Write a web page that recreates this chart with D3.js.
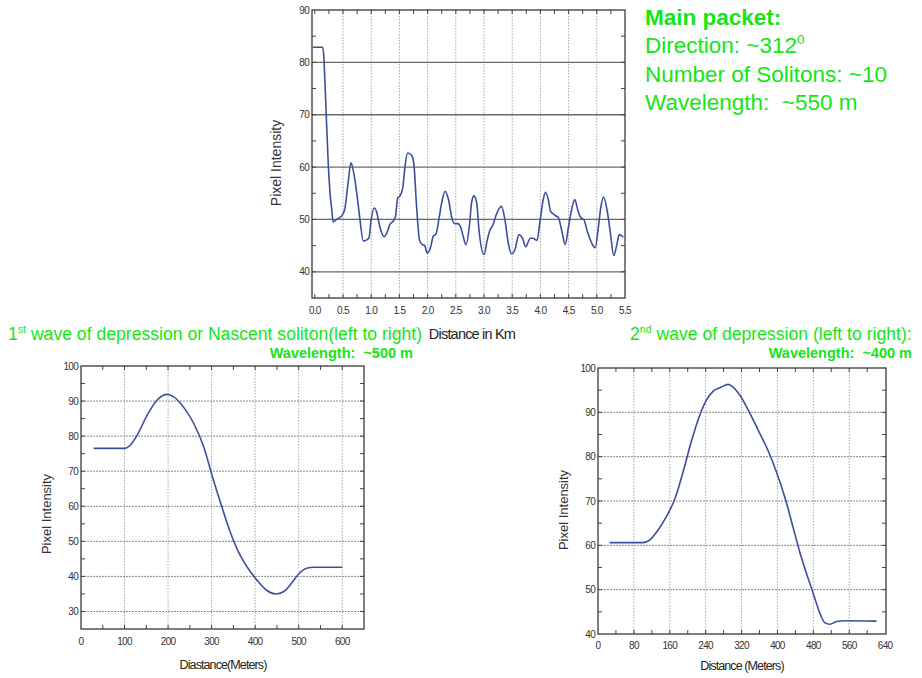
<!DOCTYPE html>
<html>
<head>
<meta charset="utf-8">
<script src="https://cdn.jsdelivr.net/npm/d3@7"></script>
<style>
  html, body { margin: 0; padding: 0; background: #fff; }
  svg { display: block; }
  text { font-family: "Liberation Sans", Arial, sans-serif; white-space: pre; }
</style>
</head>
<body>
<svg id="chart" width="922" height="678"></svg>
<script>
// ---------------- DATA ----------------
// Main packet profile: [distance km, pixel intensity]
const mainPacket = [
  [-0.03, 82.9], [0.14, 82.9], [0.16, 81.0], [0.18, 76.0], [0.21, 68.0], [0.24, 60.2], [0.27, 55.0],
  [0.30, 51.9], [0.325, 49.5], [0.385, 50.0], [0.47, 50.6], [0.53, 51.9], [0.59, 57.0], [0.64, 60.8],
  [0.69, 58.9], [0.75, 54.5], [0.80, 50.0], [0.86, 45.9], [0.92, 46.1], [0.96, 46.5], [1.00, 50.0],
  [1.05, 52.2], [1.10, 51.3], [1.15, 48.7], [1.23, 46.7], [1.28, 47.5], [1.33, 49.0], [1.39, 49.7],
  [1.43, 50.6], [1.47, 54.1], [1.51, 54.5], [1.56, 56.1], [1.60, 60.2], [1.645, 62.7], [1.72, 62.2],
  [1.76, 60.2], [1.80, 53.2], [1.86, 45.9], [1.91, 45.2], [1.95, 45.0], [1.99, 43.6], [2.05, 44.6],
  [2.10, 46.8], [2.15, 47.3], [2.20, 50.0], [2.25, 53.2], [2.31, 55.4], [2.37, 53.8], [2.43, 50.3],
  [2.48, 49.2], [2.54, 49.2], [2.59, 48.4], [2.63, 46.8], [2.68, 45.2], [2.74, 48.7], [2.78, 53.2],
  [2.82, 54.5], [2.87, 53.2], [2.91, 48.1], [3.00, 43.3], [3.06, 46.2], [3.10, 47.8], [3.16, 49.0],
  [3.22, 51.0], [3.31, 52.5], [3.37, 50.0], [3.43, 45.5], [3.49, 43.4], [3.55, 44.3], [3.62, 47.1],
  [3.68, 46.5], [3.74, 44.8], [3.82, 46.4], [3.87, 46.4], [3.94, 46.0], [3.99, 49.4], [4.05, 53.8],
  [4.09, 55.2], [4.14, 53.8], [4.18, 51.6], [4.26, 50.8], [4.32, 50.3], [4.38, 47.8], [4.44, 45.2],
  [4.50, 48.7], [4.56, 52.2], [4.61, 53.8], [4.66, 51.9], [4.72, 50.3], [4.77, 50.0], [4.83, 47.8],
  [4.91, 45.5], [4.97, 44.6], [5.03, 48.7], [5.07, 52.2], [5.12, 54.3], [5.18, 51.9], [5.24, 47.5],
  [5.30, 43.1], [5.35, 44.9], [5.40, 47.1], [5.47, 46.6]
];
// 1st wave of depression: [distance m, pixel intensity]
const wave1 = [
  [29, 76.5], [100, 76.5], [113, 77.4], [129, 80.3], [152, 86.0], [175, 90.3], [198, 91.9],
  [213, 91.2], [236, 88.2], [259, 83.6], [282, 76.9], [301, 68.8], [320, 61.2], [343, 52.6],
  [362, 46.9], [382, 42.6], [405, 38.8], [428, 35.9], [447, 35.0], [466, 35.7], [485, 38.3],
  [500, 40.7], [520, 42.4], [535, 42.6], [600, 42.6]
];
// 2nd wave of depression: [distance m, pixel intensity]
const wave2 = [
  [26, 60.6], [100, 60.6], [115, 61.2], [130, 62.9], [153, 66.6], [171, 70.4], [190, 76.7],
  [208, 83.4], [227, 89.4], [242, 92.8], [257, 94.8], [275, 95.7], [290, 96.3], [301, 95.7],
  [316, 93.9], [335, 90.5], [357, 86.0], [379, 81.4], [398, 76.5], [417, 70.7], [435, 64.0],
  [450, 58.4], [465, 53.6], [480, 49.1], [495, 44.6], [506, 42.5], [517, 42.2], [532, 42.8],
  [554, 43.0], [621, 42.9]
];

// Tick values
const mainXTicks = [0, 0.5, 1, 1.5, 2, 2.5, 3, 3.5, 4, 4.5, 5, 5.5];
const mainYTicks = [40, 50, 60, 70, 80, 90];
const wave1XTicks = [0, 100, 200, 300, 400, 500, 600];
const wave1YTicks = [30, 40, 50, 60, 70, 80, 90, 100];
const wave2XTicks = [0, 80, 160, 240, 320, 400, 480, 560, 640];
const wave2YTicks = [40, 50, 60, 70, 80, 90, 100];

// Text
const mainTitle = "Main packet:";
const mainInfo = ["Direction: ~312", "Number of Solitons: ~10", "Wavelength:  ~550 m"];
const wave1Title = ["1", "st", " wave of depression or Nascent soliton(left to right)"];
const wave1Sub = "Wavelength:  ~500 m";
const wave2Title = ["2", "nd", " wave of depression (left to right):"];
const wave2Sub = "Wavelength:  ~400 m";

// ---------------- DRAW ----------------
const svg = d3.select("#chart");
svg.append("rect").attr("width", 922).attr("height", 678).attr("fill", "#fff");

const GREEN = "#14e614";
const LINE = "#3d4f9c";

function drawChart(cfg) {
  const x = d3.scaleLinear().domain(cfg.xDomain).range([cfg.left, cfg.right]);
  const y = d3.scaleLinear().domain(cfg.yDomain).range([cfg.bottom, cfg.top]);
  const g = svg.append("g");
  const w = cfg.right - cfg.left, h = cfg.bottom - cfg.top;

  // grid
  g.append("g").selectAll("line").data(cfg.xTicks.filter(v => x(v) > cfg.left + 4 && x(v) < cfg.right - 3))
    .join("line")
    .attr("x1", d => x(d)).attr("x2", d => x(d)).attr("y1", cfg.top).attr("y2", cfg.bottom)
    .attr("stroke", "#a8a8a8").attr("stroke-width", 1).attr("stroke-dasharray", "1.5,1.5");
  g.append("g").selectAll("line").data(cfg.yTicks.filter(v => y(v) > cfg.top + 3 && y(v) < cfg.bottom - 3))
    .join("line")
    .attr("x1", cfg.left).attr("x2", cfg.right).attr("y1", d => y(d)).attr("y2", d => y(d))
    .attr("stroke", cfg.hGridColor).attr("stroke-width", cfg.hGridWidth)
    .attr("stroke-dasharray", cfg.hGridDash);

  // minor ticks (inward, all four sides)
  const xMinor = d3.range(cfg.xMinor[0], cfg.xDomain[1] + 1e-9, cfg.xMinor[1]).filter(v => x(v) > cfg.left + 1 && x(v) < cfg.right - 1);
  const yMinor = d3.range(cfg.yMinor[0], cfg.yDomain[1] + 1e-9, cfg.yMinor[1]).filter(v => y(v) > cfg.top + 1 && y(v) < cfg.bottom - 1);
  const tk = 4;
  const tg = g.append("g").attr("stroke", "#444").attr("stroke-width", 1);
  xMinor.forEach(v => {
    tg.append("line").attr("x1", x(v)).attr("x2", x(v)).attr("y1", cfg.bottom).attr("y2", cfg.bottom - tk);
    tg.append("line").attr("x1", x(v)).attr("x2", x(v)).attr("y1", cfg.top).attr("y2", cfg.top + tk);
  });
  yMinor.forEach(v => {
    tg.append("line").attr("x1", cfg.left).attr("x2", cfg.left + tk).attr("y1", y(v)).attr("y2", y(v));
    tg.append("line").attr("x1", cfg.right).attr("x2", cfg.right - tk).attr("y1", y(v)).attr("y2", y(v));
  });

  // frame
  g.append("rect").attr("x", cfg.left).attr("y", cfg.top).attr("width", w).attr("height", h)
    .attr("fill", "none").attr("stroke", "#3a3a3a").attr("stroke-width", 1.3);

  // tick labels
  g.append("g").selectAll("text").data(cfg.xTicks).join("text")
    .attr("x", d => x(d)).attr("y", cfg.bottom + cfg.xLabelDy)
    .attr("text-anchor", "middle").attr("font-size", cfg.tickSize).attr("fill", "#333")
    .attr("letter-spacing", "-0.7px")
    .text(d => cfg.xFmt(d));
  g.append("g").selectAll("text").data(cfg.yTicks).join("text")
    .attr("x", cfg.left - 3).attr("y", d => y(d) + 3.5)
    .attr("text-anchor", "end").attr("font-size", cfg.tickSize).attr("fill", "#333")
    .attr("letter-spacing", "-0.7px")
    .text(d => d);

  // axis titles
  g.append("text").attr("transform", `translate(${cfg.yTitleX},${cfg.yTitleY}) rotate(-90)`)
    .attr("text-anchor", "middle").attr("font-size", cfg.yTitleSize).attr("fill", "#333")
    .text("Pixel Intensity");
  g.append("text").attr("x", cfg.xTitleX).attr("y", cfg.xTitleY)
    .attr("text-anchor", "middle").attr("font-size", cfg.xTitleSize).attr("fill", "#222")
    .attr("letter-spacing", cfg.xTitleSpacing)
    .text(cfg.xTitle);

  // line
  const line = d3.line().x(d => x(d[0])).y(d => y(d[1])).curve(d3.curveMonotoneX);
  g.append("path").datum(cfg.data).attr("d", line)
    .attr("fill", "none").attr("stroke", LINE).attr("stroke-width", 1.6).attr("stroke-linejoin", "round");
}

drawChart({
  left: 312, top: 10, right: 625, bottom: 298,
  xDomain: [-0.05, 5.5], yDomain: [35, 90],
  xTicks: mainXTicks, yTicks: mainYTicks, xMinor: [0, 0.25], yMinor: [40, 5],
  xFmt: d3.format(".1f"), tickSize: 10, xLabelDy: 16,
  hGridColor: "#6a6a6a", hGridWidth: 1.3, hGridDash: null,
  yTitleX: 281, yTitleY: 163, yTitleSize: 14,
  xTitle: "Distance in Km", xTitleX: 472, xTitleY: 339, xTitleSize: 14.5, xTitleSpacing: "-0.8px",
  data: mainPacket
});
drawChart({
  left: 81, top: 366, right: 364, bottom: 629,
  xDomain: [0, 650], yDomain: [25, 100],
  xTicks: wave1XTicks, yTicks: wave1YTicks, xMinor: [0, 50], yMinor: [25, 5],
  xFmt: d => d, tickSize: 10, xLabelDy: 16,
  hGridColor: "#8a8a8a", hGridWidth: 1, hGridDash: "2,1",
  yTitleX: 51, yTitleY: 514, yTitleSize: 13,
  xTitle: "Diastance(Meters)", xTitleX: 223, xTitleY: 669, xTitleSize: 12.5, xTitleSpacing: "-0.9px",
  data: wave1
});
drawChart({
  left: 598, top: 368, right: 886, bottom: 634,
  xDomain: [0, 642], yDomain: [40, 100],
  xTicks: wave2XTicks, yTicks: wave2YTicks, xMinor: [0, 40], yMinor: [40, 5],
  xFmt: d => d, tickSize: 10, xLabelDy: 15,
  hGridColor: "#8a8a8a", hGridWidth: 1, hGridDash: "2,1",
  yTitleX: 568, yTitleY: 510, yTitleSize: 13,
  xTitle: "Distance (Meters)", xTitleX: 742, xTitleY: 670, xTitleSize: 12.5, xTitleSpacing: "-0.9px",
  data: wave2
});

// green annotations
const ann = svg.append("g").attr("fill", GREEN);
ann.append("text").attr("x", 645).attr("y", 25).attr("font-size", 22.5).attr("font-weight", "bold").text(mainTitle);
mainInfo.forEach((s, i) => {
  const t = ann.append("text").attr("x", 645).attr("y", 53 + i * 28.5).attr("font-size", 22.5).text(s);
  if (i === 0) t.append("tspan").attr("font-size", 13.5).attr("dy", -9).text("0");
});
function supTitle(x, y, parts, size) {
  const t = ann.append("text").attr("x", x).attr("y", y).attr("font-size", size);
  t.append("tspan").text(parts[0]);
  t.append("tspan").attr("font-size", size * 0.6).attr("dy", -size * 0.4).text(parts[1]);
  t.append("tspan").attr("dy", size * 0.4).text(parts[2]);
}
supTitle(8, 340, wave1Title, 17.6);
ann.append("text").attr("x", 413).attr("y", 358).attr("text-anchor", "end").attr("font-size", 14.5).attr("font-weight", "bold").text(wave1Sub);
supTitle(630, 340, wave2Title, 17.6);
ann.append("text").attr("x", 912).attr("y", 358).attr("text-anchor", "end").attr("font-size", 14.5).attr("font-weight", "bold").text(wave2Sub);
</script>
</body>
</html>
